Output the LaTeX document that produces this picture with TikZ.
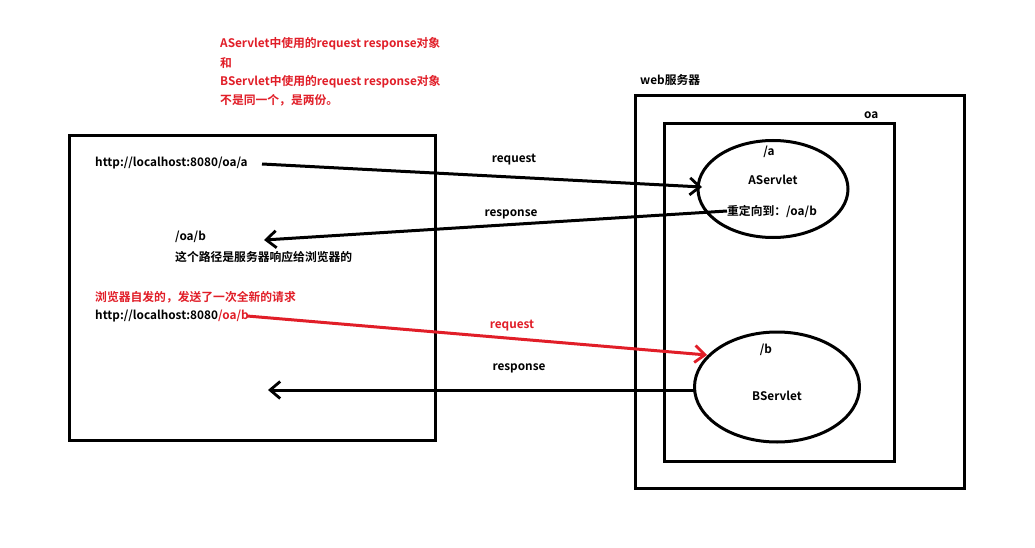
\documentclass[tikz,border=0pt]{standalone}
\usepackage{fontspec}
\setmainfont{Noto Sans CJK SC}[BoldFont={Noto Sans CJK SC Bold}]
\usetikzlibrary{arrows.meta,shapes.geometric}
\definecolor{redtxt}{RGB}{225,30,40}
\begin{document}
\begin{tikzpicture}[x=1pt,y=-1pt,
  lbl/.style={font=\bfseries\fontsize{11.8}{13}\selectfont,inner sep=0pt,anchor=west},
  ctr/.style={font=\bfseries\fontsize{11.8}{13}\selectfont,inner sep=0pt},
  frame/.style={draw,line width=3pt},
  conn/.style={line width=3pt,-{Straight Barb[length=10pt,width=17pt,line width=2.8pt]}},
  ell/.style={draw,line width=3pt,ellipse,inner sep=0pt}]
\useasboundingbox (0,0) rectangle (1035,548);
\fill[white] (0,0) rectangle (1035,548);
% boxes
\draw[frame] (69,136) rectangle (435,440);
\draw[frame] (635,96) rectangle (964,488);
\draw[frame] (664,124) rectangle (894,461);
\node[ell,minimum width=150pt,minimum height=97pt] (ea) at (773,189) {};
\node[ell,minimum width=165pt,minimum height=110pt] (eb) at (777,387) {};
% texts
\node[lbl] (web) at (640,80) {web服务器};
\node[lbl] (oa) at (864,115) {oa};
\node[lbl,text=redtxt] (r1) at (220,44) {AServlet中使用的request response对象};
\node[lbl,text=redtxt] (r2) at (220,63) {和};
\node[lbl,text=redtxt] (r3) at (220,82) {BServlet中使用的request response对象};
\node[lbl,text=redtxt] (r4) at (220,100) {不是同一个，是两份。};
\node[lbl] (urla) at (95,163) {http://localhost:8080/oa/a};
\node[ctr] (req1) at (514,160) {request};
\node[ctr] (resp1) at (511,214) {response};
\node[lbl] (oab) at (175,237) {/oa/b};
\node[lbl] (path) at (175,257) {这个路径是服务器响应给浏览器的};
\node[lbl,text=redtxt] (br) at (95,297) {浏览器自发的，发送了一次全新的请求};
\node[lbl] (urlb) at (95,316) {http://localhost:8080\textcolor{redtxt}{/oa/b}};
\node[ctr,text=redtxt] (req2) at (512,326) {request};
\node[ctr] (resp2) at (519,368) {response};
\node[ctr] (pa) at (769,152) {/a};
\node[ctr] (as) at (773,180) {AServlet};
\node[ctr] (redir) at (772,211) {重定向到：/oa/b};
\node[ctr] (pb) at (766,350) {/b};
\node[ctr] (bs) at (777,396) {BServlet};
% connectors
\coordinate (a1s) at (262,164);
\coordinate (a1e) at (702,187);
\coordinate (a2s) at (727,211);
\coordinate (a2e) at (264,240);
\coordinate (a3s) at (247,316);
\coordinate (a3e) at (707,355);
\coordinate (a4s) at (696,390);
\coordinate (a4e) at (268,390);
\draw[conn] (a1s) -- (a1e);
\draw[conn] (a2s) -- (a2e);
\draw[conn,draw=redtxt] (a3s) -- (a3e);
\draw[conn] (a4s) -- (a4e);
\end{tikzpicture}
\end{document}
